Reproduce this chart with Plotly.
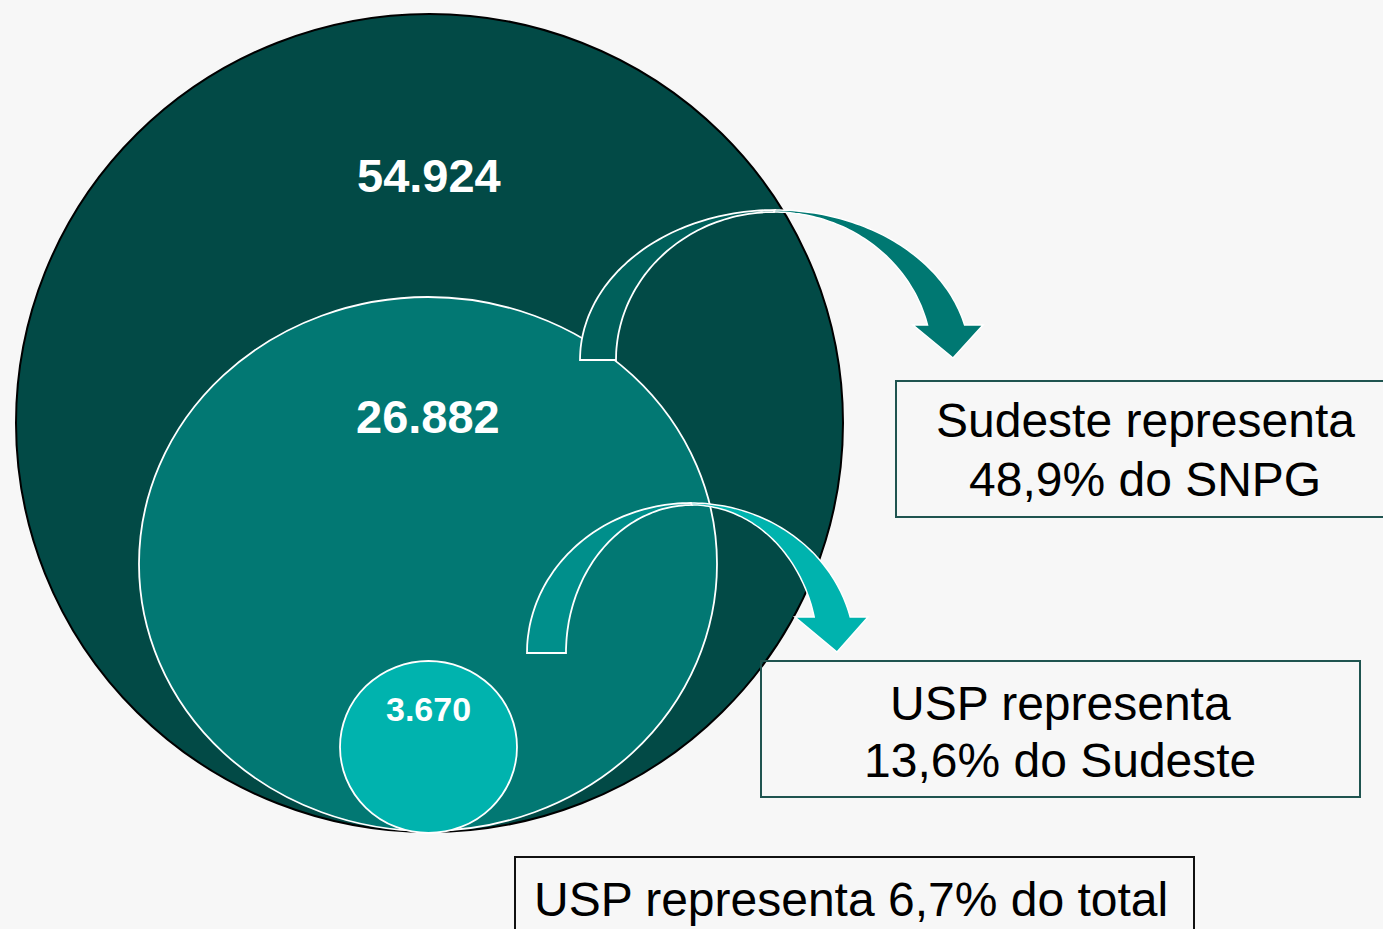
import numpy as np
import plotly.graph_objects as go

# dados
niveis = ["SNPG", "Sudeste", "USP"]
valores = [54924, 26882, 3670]
rotulos = ["54.924", "26.882", "3.670"]
chamadas = [
    ["Sudeste representa", "48,9% do SNPG"],
    ["USP representa", "13,6% do Sudeste"],
    ["USP representa 6,7% do total"],
]

W, H = 1383, 929
FUNDO = "#f7f7f7"
CORES = ["#024a46", "#027873", "#00b3ae"]
FONTE = "Liberation Sans, Arial, sans-serif"

# elipses (x0, x1, y0, y1) em pixels
ELIPSES = [(16, 843, 14, 832), (139, 717, 297, 831), (340, 517, 661, 833)]
BORDAS = [("#000000", 2), ("#ffffff", 1.8), ("#ffffff", 1.8)]
POS_ROTULO = [(429, 175, 47), (428, 416, 47), (428, 709, 34)]


def escurece(hexcor, f=0.8):
    r, g, b = (int(hexcor[i:i + 2], 16) for i in (1, 3, 5))
    return "#%02x%02x%02x" % (int(r * f), int(g * f), int(b * f))


def arco(cx, rx, ry, base, t0, t1, n=60):
    t = np.linspace(t0, t1, n)
    return list(zip(cx + rx * np.cos(t), base - ry * np.sin(t)))


def caminho(pts):
    s = "M " + " L ".join(f"{x:.1f},{y:.1f}" for x, y in pts)
    return s + " Z"


def seta_curva(cxo, rxo, ryo, cxi, rxi, ryi, base, yc, hx0, hx1, tip):
    to = np.pi - np.arcsin((base - yc) / ryo)
    ti = np.pi - np.arcsin((base - yc) / ryi)
    tras = arco(cxo, rxo, ryo, base, np.pi, np.pi / 2) + arco(cxi, rxi, ryi, base, np.pi / 2, np.pi)
    frente = (arco(cxo, rxo, ryo, base, np.pi / 2, np.pi - to)
              + [(hx1, yc), tip, (hx0, yc)]
              + arco(cxi, rxi, ryi, base, np.pi - ti, np.pi / 2))
    return caminho(tras), caminho(frente)


fig = go.Figure()
shapes = []
for (x0, x1, y0, y1), cor, (lc, lw) in zip(ELIPSES, CORES, BORDAS):
    shapes.append(dict(type="circle", xref="x", yref="y", x0=x0, x1=x1, y0=y0, y1=y1,
                       fillcolor=cor, line=dict(color=lc, width=lw), layer="above"))

setas = [
    (seta_curva(775, 195, 150, 774, 158, 148, 360, 325, 913, 983, (953, 358)), "#007872"),
    (seta_curva(691, 164, 150, 692, 126, 148, 653, 617, 795, 868, (837, 652)), "#00b3ae"),
]
for (tras, frente), cor in setas:
    shapes.append(dict(type="path", path=tras, fillcolor=escurece(cor),
                       line=dict(color="#ffffff", width=1.8), layer="above"))
    shapes.append(dict(type="path", path=frente, fillcolor=cor,
                       line=dict(color="#ffffff", width=1.5), layer="above"))

# caixas
CAIXAS = [(896, 1395, 381, 517, "#1f5450"), (761, 1360, 661, 797, "#1f5450"), (515, 1194, 857, 945, "#111111")]
for x0, x1, y0, y1, lc in CAIXAS:
    shapes.append(dict(type="rect", xref="x", yref="y", x0=x0, x1=x1, y0=y0, y1=y1,
                       fillcolor="rgba(0,0,0,0)", line=dict(color=lc, width=2), layer="above"))

anots = []
for txt, (x, y, s) in zip(rotulos, POS_ROTULO):
    anots.append(dict(x=x, y=y, text=f"<b>{txt}</b>", showarrow=False,
                      font=dict(family=FONTE, size=s, color="white"), xanchor="center", yanchor="middle"))

POS_CHAMADA = [[(1145, 420), (1145, 479)], [(1060, 703), (1060, 760)], [(851, 899)]]
for linhas, pos in zip(chamadas, POS_CHAMADA):
    for txt, (x, y) in zip(linhas, pos):
        anots.append(dict(x=x, y=y, text=txt, showarrow=False,
                          font=dict(family=FONTE, size=48, color="black"), xanchor="center", yanchor="middle"))

fig.update_layout(
    width=W, height=H,
    margin=dict(l=0, r=0, t=0, b=0),
    paper_bgcolor=FUNDO, plot_bgcolor=FUNDO,
    xaxis=dict(range=[0, W], visible=False, fixedrange=True),
    yaxis=dict(range=[H, 0], visible=False, fixedrange=True),
    shapes=shapes, annotations=anots, showlegend=False,
)

fig.write_html("out.html", config={"displayModeBar": False},
               post_script="document.body.style.margin='0';document.body.style.background='%s';" % FUNDO)
